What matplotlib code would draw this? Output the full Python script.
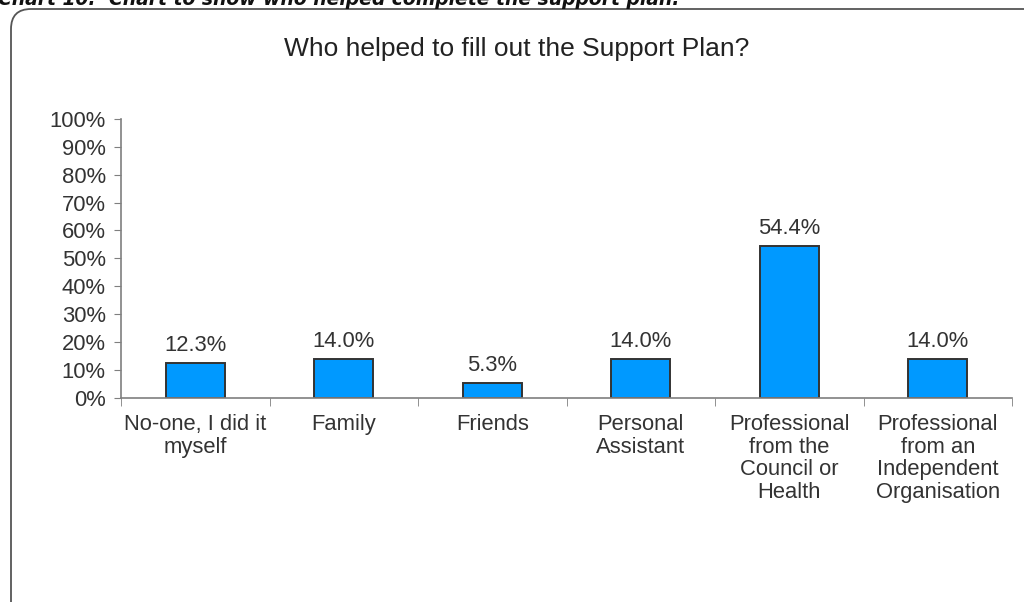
import matplotlib
matplotlib.use('Agg')
import matplotlib.pyplot as plt
from matplotlib.patches import FancyBboxPatch
import numpy as np

plt.rcParams['font.family'] = ['Liberation Sans', 'DejaVu Sans']

categories = ['No-one, I did it\nmyself', 'Family', 'Friends', 'Personal\nAssistant',
              'Professional\nfrom the\nCouncil or\nHealth',
              'Professional\nfrom an\nIndependent\nOrganisation']
shares = [12.3, 14.0, 5.3, 14.0, 54.4, 14.0]
y_ticks = list(range(0, 101, 10))

col_bar = '#0099FF'
col_text = '#333333'
col_axis = '#7F7F7F'
fs = 15.8

W, H = 1024, 602
fig = plt.figure(figsize=(W / 100, H / 100), dpi=100)

# background layer in pixel units for the rounded frame and the caption
bg = fig.add_axes([0, 0, 1, 1], zorder=0)
bg.set_xlim(0, W)
bg.set_ylim(H, 0)
bg.axis('off')
frame = FancyBboxPatch((11, 9), 1040, 620, boxstyle='round,pad=0,rounding_size=20',
                       fc='white', ec='#555555', lw=1.3)
bg.add_patch(frame)
bg.text(-2, 5, 'Chart 10:  Chart to show who helped complete the support plan.',
        fontsize=13.5, fontweight='bold', fontstyle='italic', color='#111111',
        family=['DejaVu Sans'], va='baseline', ha='left')
bg.text(517, 49, 'Who helped to fill out the Support Plan?', fontsize=19,
        color='#222222', ha='center', va='center')

ax = fig.add_axes([121 / W, 1 - 397.5 / H, (1012 - 121) / W, (397.5 - 119) / H], zorder=1)
ax.patch.set_alpha(0)
x = np.arange(len(categories))
bars = ax.bar(x, shares, width=0.4, color=col_bar, edgecolor='#333333', linewidth=1.4)
for xi, v in zip(x, shares):
    ax.text(xi, v + 2.5, f'{v:.1f}%', ha='center', va='bottom', fontsize=fs, color=col_text)

ax.set_xlim(-0.5, len(categories) - 0.5)
ax.set_ylim(0, 100)
ax.set_yticks(y_ticks)
ax.set_yticklabels([f'{t}%' for t in y_ticks], fontsize=fs, color=col_text)
ax.set_xticks(x)
ax.set_xticklabels(categories, fontsize=fs, color=col_text, linespacing=1.1, va='top')
ax.tick_params(axis='x', length=0, pad=12)
ax.tick_params(axis='y', length=5, color=col_axis, pad=6)
# category boundary ticks
ax.set_xticks(np.arange(len(categories) + 1) - 0.5, minor=True)
ax.tick_params(axis='x', which='minor', length=6, color=col_axis)
for s in ['top', 'right']:
    ax.spines[s].set_visible(False)
for s in ['left', 'bottom']:
    ax.spines[s].set_color(col_axis)
    ax.spines[s].set_linewidth(1.2)

fig.savefig('out.png', dpi=100)
